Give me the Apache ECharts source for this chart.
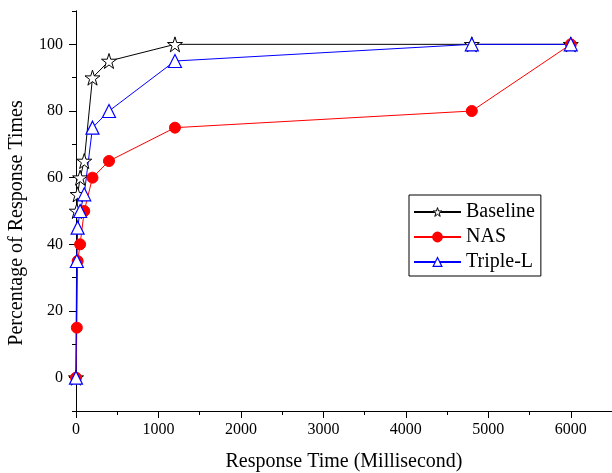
<!DOCTYPE html>
<html>
<head>
<meta charset="utf-8">
<script src="https://cdn.jsdelivr.net/npm/echarts@6/dist/echarts.min.js"></script>
<style>
  html, body { margin: 0; padding: 0; background: #fff; }
  #main { width: 612px; height: 473px; }
</style>
</head>
<body>
<div id="main"></div>
<script>
// 响应时间阈值 (ms)
var times = [0, 10, 20, 50, 100, 200, 400, 1200, 4800, 6000];
var baseline = [0, 50, 55, 60, 65, 90, 95, 100, 100, 100];
var nas = [0, 15, 35, 40, 50, 60, 65, 75, 80, 100];
var tripleL = [0, 35, 45, 50, 55, 75, 80, 95, 100, 100];
// 刻度标签
var xLabels = [0, 1000, 2000, 3000, 4000, 5000, 6000];
var yLabels = [0, 20, 40, 60, 80, 100];

(function() {
    var myChart = echarts.init(document.getElementById('main'));

    function pairs(ys) {
        return times.map(function(t, i) { return [t, ys[i]]; });
    }

    var starPath = 'path://M50,0L61.2,34.5L97.6,34.5L68.2,55.9L79.4,90.5L50,69.1L20.6,90.5L31.8,55.9L2.4,34.5L38.8,34.5Z';
    var font = '"Liberation Serif", "Times New Roman", serif';
    var black = { color: '#000', width: 1 };
    var plain = function(v) { return String(v); };

    // 两层坐标轴：一层画短的次刻度，一层画长的主刻度和标签
    var xBase = { type: 'value', min: 0, max: 6500, splitLine: { show: false } };
    var yBase = { type: 'value', min: -10, max: 110, splitLine: { show: false } };

    var option = {
        backgroundColor: '#fff',
        animation: false,
        grid: {
            left: 76,
            right: 0,
            top: 11,
            bottom: 62,
            containLabel: false,
            outerBoundsMode: 'none'
        },
        legend: {
            orient: 'vertical',
            left: 409,
            top: 195,
            padding: [7, 6, 4, 4],
            borderColor: '#000',
            borderWidth: 1,
            itemWidth: 47,
            itemHeight: 11,
            itemGap: 5,
            textStyle: { fontFamily: font, fontSize: 20, color: '#000' },
            data: [
                { name: 'Baseline', itemStyle: { color: '#fff', borderColor: '#000', borderWidth: 1 } },
                { name: 'NAS' },
                { name: 'Triple-L', itemStyle: { color: '#fff', borderColor: '#0000ff', borderWidth: 1.2 } }
            ]
        },
        xAxis: [
            Object.assign({}, xBase, {
                interval: 500,
                axisLine: { onZero: false, lineStyle: black },
                axisTick: { length: 4, lineStyle: black },
                axisLabel: { show: false }
            }),
            Object.assign({}, xBase, {
                position: 'bottom',
                interval: 1000,
                name: 'Response Time (Millisecond)',
                nameLocation: 'middle',
                nameGap: 41,
                nameTextStyle: { fontFamily: font, fontSize: 20, color: '#000' },
                axisLine: { onZero: false, lineStyle: black },
                axisTick: { length: 7, lineStyle: black, customValues: xLabels },
                axisLabel: {
                    margin: 11,
                    fontFamily: font,
                    fontSize: 16,
                    color: '#000',
                    customValues: xLabels,
                    formatter: plain
                }
            })
        ],
        yAxis: [
            Object.assign({}, yBase, {
                interval: 10,
                axisLine: { show: true, onZero: false, lineStyle: black },
                axisTick: { show: true, length: 4, lineStyle: black },
                axisLabel: { show: false }
            }),
            Object.assign({}, yBase, {
                position: 'left',
                interval: 10,
                name: 'Percentage of Response Times',
                nameLocation: 'middle',
                nameGap: 49,
                nameTextStyle: { fontFamily: font, fontSize: 20, color: '#000', padding: [0, 24, 0, 0] },
                axisLine: { show: true, onZero: false, lineStyle: black },
                axisTick: { show: true, length: 7, lineStyle: black, customValues: yLabels },
                axisLabel: {
                    margin: 13,
                    fontFamily: font,
                    fontSize: 16,
                    color: '#000',
                    customValues: yLabels,
                    formatter: plain
                }
            })
        ],
        series: [{
                name: 'Baseline',
                type: 'line',
                clip: false,
                data: pairs(baseline),
                symbol: starPath,
                symbolSize: 15,
                lineStyle: { color: '#000', width: 1 },
                itemStyle: { color: '#fff', borderColor: '#000', borderWidth: 1 }
            },
            {
                name: 'NAS',
                type: 'line',
                clip: false,
                data: pairs(nas),
                symbol: 'circle',
                symbolSize: 11,
                lineStyle: { color: '#ff0000', width: 1 },
                itemStyle: { color: '#ff0000', borderColor: '#ff0000', borderWidth: 1 }
            },
            {
                name: 'Triple-L',
                type: 'line',
                clip: false,
                data: pairs(tripleL),
                symbol: 'triangle',
                symbolSize: 13,
                lineStyle: { color: '#0000ff', width: 1 },
                itemStyle: { color: '#fff', borderColor: '#0000ff', borderWidth: 1.2 }
            }
        ]
    };

    myChart.setOption(option);
})();
</script>
</body>
</html>
